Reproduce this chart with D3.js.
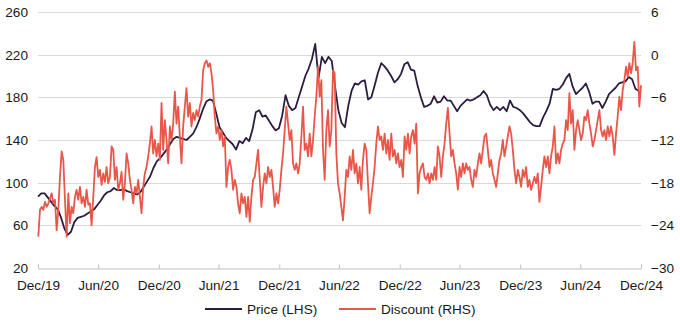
<!DOCTYPE html>
<html><head><meta charset="utf-8">
<script src="https://cdn.jsdelivr.net/npm/d3@7"></script>
<style>
body{margin:0;background:#fff;}
svg{display:block;font-family:"Liberation Sans",Arial,sans-serif;}
</style>
</head><body>
<svg id="chart" width="680" height="324"></svg>
<script>
// ---- data ----
const leftTicks = [20, 60, 100, 140, 180, 220, 260];
const rightTicks = [-30, -24, -18, -12, -6, 0, 6];
const xTickLabels = ["Dec/19","Jun/20","Dec/20","Jun/21","Dec/21","Jun/22","Dec/22","Jun/23","Dec/23","Jun/24","Dec/24"];
const seriesNames = ["Price (LHS)", "Discount (RHS)"];

// Price (LHS), one value every 10 days from 31 Dec 2019
const priceStart = [2019, 11, 31];
const priceStepDays = 10;
const price = [
 87,90,90,86,82,78,75,67,57,51,
 54,63,67,68,69,71,73,75,79,83,
 88,91,92,95,93,93,94,92,91,90,
 89,91,96,101,106,114,120,123,127,131,
 136,141,143,142,141,140,143,146,152,160,
 169,176,178,177,165,152,147,142,139,136,
 131,139,137,142,139,150,166,168,162,163,
 158,153,149,151,163,182,172,168,170,180,
 190,200,207,216,230,198,218,212,218,214,
 190,168,156,152,172,186,193,192,195,196,
 178,180,191,203,212,209,205,200,194,197,
 202,211,213,206,205,191,180,171,172,174,
 181,175,176,181,177,177,172,167,172,175,
 178,177,178,180,182,186,182,173,168,171,
 168,171,167,177,171,170,168,165,161,157,
 154,153,153,161,167,174,188,187,188,192,
 198,202,190,183,186,189,193,185,174,176,
 176,170,176,183,186,189,193,194,195,199,
 197,188,186
];

// Discount (RHS), evenly spaced from 1 Jan 2020 to 31 Dec 2024
const discountStart = [2020, 0, 1];
const discountEnd = [2024, 11, 31];
const discount = [
 -25.6,-21.8,-21.4,-21.8,-20.7,-21.4,-20.9,-20.2,-19.5,-20.9,
 -20.4,-24.7,-21.8,-17.2,-13.6,-14.8,-20.4,-25.6,-19.5,-23.7,
 -21.4,-22.3,-20,-19,-20.4,-18.6,-20.9,-20,-21.4,-19,
 -21.1,-20.9,-24,-20,-15.8,-14.4,-17.2,-16.2,-18.3,-16.7,
 -17.9,-15.8,-18.1,-17.2,-12.9,-13.4,-17.6,-15.8,-19,-18.1,
 -16.5,-20.4,-18.1,-13.9,-15.3,-17.6,-19,-20.9,-18.6,-19.5,
 -17.6,-20,-22.3,-18.6,-16.7,-15.8,-14.3,-12.5,-10.1,-13.9,
 -12,-14.3,-12.5,-14.8,-6.8,-13.4,-9.2,-12,-15.3,-10.1,
 -12,-9.7,-5.2,-9.7,-7.3,-11.5,-15.3,-10.1,-7.3,-4.7,
 -8.7,-6.8,-10.1,-8.2,-9.2,-7.8,-8.7,-7.3,-6.4,-2.2,
 -1.2,-0.8,-1.7,-1.2,-2.6,-5,-8.7,-11.1,-10.1,-12,
 -10.6,-12.9,-11.5,-18.6,-15.8,-14.8,-16.2,-19,-17.6,-18.6,
 -21,-22.3,-19.5,-20.9,-20,-22.8,-20,-23.5,-20,-17.6,
 -17.2,-15.3,-13.4,-17.6,-21.4,-18.6,-16.7,-18.1,-15.8,-17.2,
 -16.2,-18.6,-21.4,-19.5,-20.9,-19,-16.2,-13.9,-10.6,-7.3,
 -9.7,-12,-10.6,-15.3,-16.2,-15.3,-16.7,-15.3,-11.5,-7.3,
 -13.4,-12.5,-14.3,-11.1,-14.3,-12,-8.7,-5.9,-1.7,-5.9,
 -3.6,-13.4,-17.6,-10.6,-7.8,-12.9,-10.6,-2.2,-2.6,-13.9,
 -18.1,-19.5,-21.4,-23.3,-20,-16.2,-17.2,-14.3,-16.2,-13.4,
 -16.7,-15.3,-18.1,-15.8,-19,-14.8,-12.5,-13.4,-18.1,-22.3,
 -20,-18.1,-15.8,-12.5,-10.1,-12,-11.5,-13.4,-11.1,-13.9,
 -12,-14.8,-11.1,-14.3,-13.4,-15.3,-13.9,-15.8,-14.8,-17.2,
 -11.5,-13.4,-11.1,-13.9,-11.5,-10.6,-12.5,-9.7,-19.5,-16.7,
 -15.8,-15.3,-17.2,-17.6,-16.7,-18.1,-16.7,-17.6,-15.8,-17.6,
 -12.9,-14.3,-17.2,-14.3,-12.5,-9.7,-7.5,-11.1,-14.3,-13.4,
 -15.3,-16.7,-19,-15.8,-17.2,-15.3,-16.7,-15.3,-16.2,-15.8,
 -17.6,-18.6,-16.2,-17.2,-15.3,-13.9,-15.3,-13.4,-11.5,-11.1,
 -13.4,-15.8,-14.8,-16.7,-17.6,-18.6,-16.7,-14.8,-13.9,-12,
 -14.3,-12.9,-11.5,-10.1,-11.1,-13.4,-16.2,-18.1,-16.2,-17.2,
 -18.6,-16.2,-17.2,-15.8,-18.6,-17.6,-19,-18.1,-17.2,-18.1,
 -16.7,-20.7,-18.6,-16.2,-14.3,-15.8,-14.3,-16.7,-14.3,-12.9,
 -10.1,-15.3,-13.9,-15.3,-13.4,-12.5,-12,-9.2,-10.6,-5.4,
 -9.7,-7.8,-13.4,-10.6,-9.2,-10.6,-12,-11.1,-8.7,-9.2,
 -7.8,-9.7,-11.1,-12.9,-12,-10.6,-9.2,-7.8,-10.6,-11.5,
 -10.6,-12,-10.1,-11.5,-10.1,-11.5,-14.1,-11.1,-8.7,-5.9,
 -7.8,-5,-3.6,-1.7,-3.1,-1.2,-2.6,-1.2,1.8,-2.2,
 -1.7,-7.3,-4.3
];

// ---- layout ----
const plot = {left: 38, right: 641, top: 12, bottom: 268};
const colPrice = "#2c1c40", colDisc = "#e8574a", gridCol = "#d9d9d9";
const fontSize = 13.6;
const fontFam = '"Liberation Sans",Arial,sans-serif';

const svg = d3.select("#chart");

const x = d3.scaleTime()
  .domain([new Date(2019, 11, 31), new Date(2024, 11, 31)])
  .range([plot.left, plot.right]);
const yL = d3.scaleLinear().domain([20, 260]).range([plot.bottom, plot.top]);
const yR = d3.scaleLinear().domain([-30, 6]).range([plot.bottom, plot.top]);

const xTickDates = xTickLabels.map((d, i) => new Date(2019, 12 + 6 * i, 0));

// gridlines
svg.append("g").selectAll("line").data(leftTicks.filter(d => d !== 20)).join("line")
  .attr("x1", plot.left).attr("x2", plot.right)
  .attr("y1", d => Math.round(yL(d)) + 0.5).attr("y2", d => Math.round(yL(d)) + 0.5)
  .attr("stroke", gridCol).attr("stroke-width", 1);

// left axis
const gL = svg.append("g").attr("transform", `translate(${plot.left},0)`)
  .call(d3.axisLeft(yL).tickValues(leftTicks).tickSize(0).tickPadding(10));
gL.select(".domain").remove();
gL.selectAll("text").attr("font-size", fontSize).attr("fill", "#1a1a1a").attr("font-family", fontFam);

// right axis
const gR = svg.append("g").attr("transform", `translate(${plot.right},0)`)
  .call(d3.axisRight(yR).tickValues(rightTicks).tickSize(0).tickPadding(10));
gR.select(".domain").remove();
gR.selectAll("text").attr("font-size", fontSize).attr("fill", "#1a1a1a").attr("font-family", fontFam);

// bottom axis
const gB = svg.append("g").attr("transform", `translate(0,${plot.bottom + 0.5})`)
  .call(d3.axisBottom(x).tickValues(xTickDates).tickFormat((d, i) => xTickLabels[i]).tickSize(0).tickPadding(12));
gB.select(".domain").attr("stroke", "#bfbfbf");
gB.selectAll(".tick").append("line").attr("y1", -4).attr("y2", 0).attr("stroke", "#bfbfbf");
gB.selectAll("text").attr("font-size", fontSize).attr("fill", "#1a1a1a").attr("font-family", fontFam);

// series
const priceData = price.map((v, i) => ({date: d3.timeDay.offset(new Date(...priceStart), i * priceStepDays), v}));
const t0 = +new Date(...discountStart), t1 = +new Date(...discountEnd);
const discData = discount.map((v, i) => ({date: new Date(t0 + (t1 - t0) * i / (discount.length - 1)), v}));

svg.append("path").datum(priceData)
  .attr("fill", "none").attr("stroke", colPrice).attr("stroke-width", 1.8)
  .attr("stroke-linejoin", "round")
  .attr("d", d3.line().x(d => x(d.date)).y(d => yL(d.v)));

svg.append("path").datum(discData)
  .attr("fill", "none").attr("stroke", colDisc).attr("stroke-width", 1.8)
  .attr("stroke-linejoin", "round")
  .attr("d", d3.line().x(d => x(d.date)).y(d => yR(d.v)));

// legend
const legend = svg.append("g").attr("font-size", fontSize).attr("fill", "#1a1a1a").attr("font-family", fontFam);
const legItems = [
  {name: seriesNames[0], col: colPrice, x: 205},
  {name: seriesNames[1], col: colDisc, x: 339}
];
legItems.forEach(it => {
  legend.append("line").attr("x1", it.x).attr("x2", it.x + 37)
    .attr("y1", 309).attr("y2", 309).attr("stroke", it.col).attr("stroke-width", 2);
  legend.append("text").attr("x", it.x + 42).attr("y", 313.5).text(it.name);
});
</script>
</body></html>
